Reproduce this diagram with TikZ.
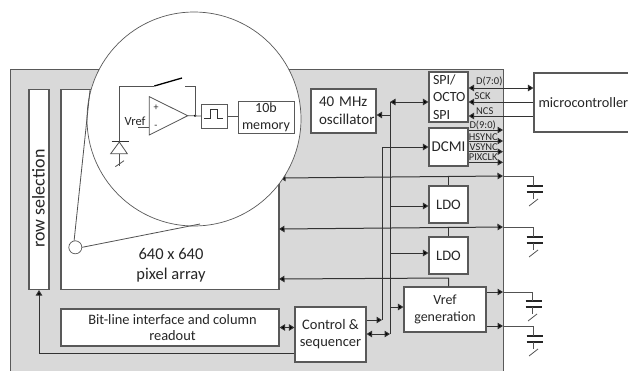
\documentclass[tikz,border=0pt]{standalone}
\usepackage{fontspec}
\setmainfont{Carlito}
\usetikzlibrary{
  arrows.meta,
  positioning,
  calc
}
\definecolor{chipgrey}{HTML}{D9D9D9}
\definecolor{edgegrey}{HTML}{595959}
\definecolor{wiregrey}{HTML}{333333}
\definecolor{inkgrey}{HTML}{262626}

\begin{document}
\begin{tikzpicture}[
    x=1pt, y=-1pt,
    font=\fontsize{14.5}{17}\selectfont,
    text=inkgrey,
    box/.style={
      rectangle, draw=edgegrey, fill=white, line width=1.1pt,
      inner sep=0pt, text centered, align=center
    },
    tiny/.style={
      inner sep=0pt, anchor=west, font=\fontsize{10.5}{11}\selectfont
    },
    wire/.style={draw=wiregrey, line width=1pt},
    thin wire/.style={draw=wiregrey!85!white, line width=0.8pt},
    arr/.style={wire, -{Triangle[length=5.5pt,width=6.5pt,fill=black]}},
    bidir/.style={wire, {Triangle[length=5.5pt,width=6.5pt,fill=black]}-{Triangle[length=5.5pt,width=6.5pt,fill=black]}},
    plate/.style={draw=inkgrey, line width=1.6pt},
  ]
  \useasboundingbox (0,0) rectangle (628,370);

  %% chip background
  \fill[chipgrey, draw=edgegrey, line width=0.8pt] (10,69) rectangle (503,372);

  %% blocks
  \node[box, minimum width=20pt, minimum height=200pt] (rowsel) at (39,189.5) {};
  \node[rotate=90, font=\fontsize{18}{20}\selectfont, inner sep=0pt] (rowlabel) at (38.5,198.5) {row selection};
  \node[box, minimum width=218pt, minimum height=200pt] (array) at (170,189.5) {};
  \node[align=center, font=\fontsize{16.5}{20}\selectfont] (arraylabel) at (171,265) {640 x 640\\pixel array};
  \node[box, minimum width=218pt, minimum height=37pt, font=\fontsize{14.4}{16.7}\selectfont] (bitline) at (170,327.5)
    {\hspace*{5pt}Bit-line interface and column\\\hspace*{5pt}readout};
  \node[box, minimum width=71pt, minimum height=55pt] (control) at (330.5,334.5) {Control \&\\sequencer};
  \node[box, minimum width=82pt, minimum height=45pt, font=\fontsize{14}{17}\selectfont] (vref) at (445,309.5) {Vref\\generation};
  \node[box, minimum width=39pt, minimum height=37pt] (ldob) at (448.5,255.5) {LDO};
  \node[box, minimum width=39pt, minimum height=37pt] (ldoa) at (448.5,204.5) {LDO};
  \node[box, minimum width=39pt, minimum height=38pt, font=\fontsize{15}{17}\selectfont] (dcmi) at (448.5,147) {DCMI};
  \node[box, minimum width=39pt, minimum height=50pt, font=\fontsize{14}{17.5}\selectfont, text width=31pt, align=left] (spi) at (448.5,97) {SPI/\\OCTO\\SPI};
  \node[box, minimum width=65pt, minimum height=44pt, font=\fontsize{15}{18}\selectfont, text width=49pt, align=left] (osc) at (343.5,111) {40 MHz\\oscillator};
  \node[box, minimum width=110pt, minimum height=59pt, text width=101pt, align=left, font=\fontsize{14.3}{17}\selectfont] (mcu) at (589,102.5) {microcontroller};

  %% row selection feedback
  \coordinate (rowfeed) at (control.west |- 0,353);
  \draw[arr] (rowfeed) -| (rowsel.south);
  \draw[bidir] (bitline.east) -- (control.west |- bitline.east);

  %% buses
  \coordinate (busa) at (382,320);
  \coordinate (busb) at (390,334);
  \draw[arr] (control.east |- busa) -- (busa);
  \draw[bidir] (control.east |- busb) -- (busb);
  \draw[arr] (busa) |- (dcmi.west);
  \draw[wire] (busb) -- (390,102);
  \draw[bidir] (390,102) -- (spi.west |- 0,102);
  \draw[arr] (390,115) -- (osc.east |- 0,115);
  \draw[arr] (390,206) -- (ldoa.west |- 0,206);
  \draw[arr] (390,253) -- (ldob.west |- 0,253);
  \draw[arr] (390,307) -- (vref.west |- 0,307);

  %% supplies
  \coordinate (pixa) at (280,178);
  \coordinate (pixb) at (279,229);
  \coordinate (pixc) at (279,279);
  \coordinate (pina) at (503,176);
  \coordinate (pinb) at (503,227);
  \coordinate (pinc) at (503,292);
  \coordinate (pind) at (503,326);
  \draw[bidir] (pixa) -- (pina);
  \draw[bidir] (pixb) -- (pinb);
  \draw[arr] (vref.north -| ldob) -- (ldob |- 0,278) -- (pixc);
  \draw[wire] (ldoa.north) -- (ldoa |- pina);
  \draw[wire] (ldob.north) -- (ldob |- pinb);
  \draw[arr] (vref.east |- pinc) -- (pinc);
  \draw[arr] (vref.east |- pind) -- (pind);

  %% capacitors
  \foreach \name/\ytop/\xpin in {capa/186/533, capb/237/533, capc/301/532, capd/336/533} {
    \coordinate (\name) at (\xpin,\ytop);
    \draw[plate] ($(\name)+(-6.5,0)$) -- ($(\name)+(9.5,0)$);
    \draw[plate] ($(\name)+(-6.5,6)$) -- ($(\name)+(9.5,6)$);
    \draw[thin wire] ($(\name)+(0,6)$) -- ($(\name)+(0,13)$);
    \draw[thin wire] ($(\name)+(-4,20)$) -- ($(\name)+(5,13)$);
  }
  \draw[thin wire] (pina) -| (capa);
  \draw[thin wire] (pinb) -| (capb);
  \draw[thin wire] (pinc) -| (capc);
  \draw[thin wire] (pind) -| (capd);

  %% microcontroller links
  \draw[bidir] (spi.east |- 0,88) -- (mcu.west |- 0,88);
  \draw[arr] (mcu.west |- 0,102) -- (spi.east |- 0,102);
  \draw[arr] (mcu.west |- 0,116) -- (spi.east |- 0,116);
  \node[tiny] (dseven) at (476,81) {D(7:0)};
  \node[tiny] (sck) at (474.5,96) {SCK};
  \node[tiny] (ncs) at (476,110.7) {NCS};

  %% parallel camera outputs
  \foreach \name/\ypos/\txt/\xtxt/\ytxt in {dnine/130/D(9:0)/469.3/125.7, hsync/141/HSYNC/468.7/137, vsync/151.7/VSYNC/469.5/147.3, pixclk/162.3/PIXCLK/468.7/157.3} {
    \draw[arr] (dcmi.east |- 0,\ypos) -- (503,\ypos);
    \node[tiny] (\name) at (\xtxt,\ytxt) {\txt};
  }

  %% zoomed pixel
  \node[circle, draw=edgegrey, fill=white, line width=0.7pt, minimum size=13pt, inner sep=0pt] (pixel) at (75.3,247.3) {};
  \node[circle, draw=edgegrey, fill=white, line width=0.7pt, minimum size=214pt, inner sep=0pt] (lens) at (194,119) {};
  \draw[thin wire] (pixel.100) -- (90,90);
  \draw[thin wire] (pixel.east) -- (200,224);

  %% pixel circuit
  \node[box, line width=0.8pt, minimum width=26pt, minimum height=24pt] (pulse) at (214.7,116) {};
  \node[box, line width=0.8pt, minimum width=56pt, minimum height=32pt, font=\fontsize{14}{17}\selectfont] (memory) at (266,117) {10b\\memory};
  \coordinate (dot) at (195,115.7);
  \draw[thin wire] (149.3,96.7) -- (149.3,135) -- (187.7,115.7) -- cycle;
  \node[font=\fontsize{10}{10}\selectfont, inner sep=0pt] (plus) at (156,107.7) {+};
  \node[font=\fontsize{10}{10}\selectfont, inner sep=0pt] (minus) at (156,127) {-};
  \node[font=\fontsize{12.5}{12}\selectfont, inner sep=0pt] (vreflabel) at (135,121.7) {Vref};
  \draw[thin wire] (138.3,127.7) -- (149.3,127.7);
  \draw[thin wire] (187.7,115.7) -- (pulse.west);
  \fill[black] (dot) circle (1.2);
  \draw[thin wire] (pulse.east) -- (memory.west |- pulse.east);
  \draw[wire, line join=miter] (204.3,118) -- (210,118) -- (210,109) -- (217.3,109) -- (217.3,118) -- (223.3,118);
  \draw[thin wire] (dot) -- (195,86) -- (184.7,86);
  \draw[thin wire] (119.3,141.3) -- (119.3,86) -- (154.3,86);
  \draw[draw=black, line width=1.3pt] (154.3,86) -- (182,78);
  \draw[wire] (111.7,141.3) -- (129,141.3);
  \draw[thin wire] (119.3,142) -- (110.7,153.7) -- (127.3,153.7) -- cycle;
  \draw[thin wire] (119.3,153.7) -- (119.3,165.7);
  \draw[thin wire] (115.3,166.7) -- (124,160.7);
\end{tikzpicture}
\end{document}
